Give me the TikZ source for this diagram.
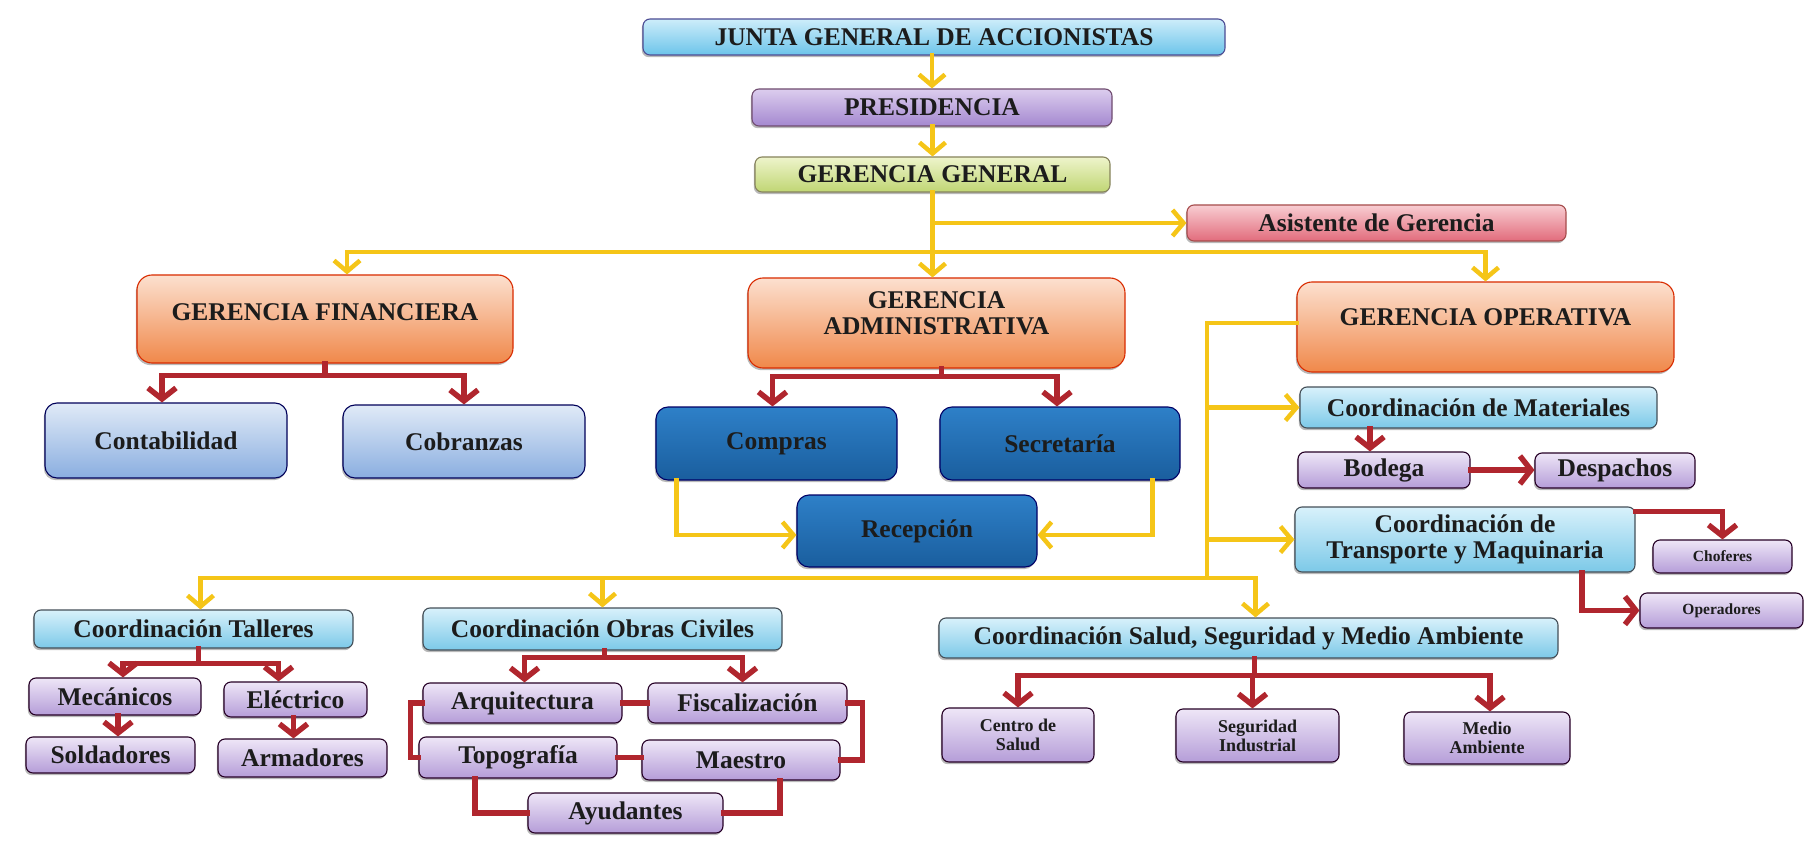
\documentclass[tikz,border=0pt]{standalone}
\usepackage{fontspec}
\setmainfont{Liberation Serif}
\usetikzlibrary{arrows.meta,shadows}
\definecolor{yel}{HTML}{F5C518}
\definecolor{redl}{HTML}{B0262E}
\definecolor{txt}{HTML}{1C1C1C}
\definecolor{juntaT}{HTML}{CDEDFA}\definecolor{juntaB}{HTML}{6CC4EA}
\definecolor{presT}{HTML}{DCCDEE}\definecolor{presB}{HTML}{A488D0}
\definecolor{ggT}{HTML}{EEF4CB}\definecolor{ggB}{HTML}{C0D674}
\definecolor{asisT}{HTML}{F8CDD2}\definecolor{asisB}{HTML}{E26C7C}
\definecolor{gerT}{HTML}{FCE0CF}\definecolor{gerB}{HTML}{F0884A}
\definecolor{contaT}{HTML}{E0EAF7}\definecolor{contaB}{HTML}{8AAEE0}
\definecolor{darkT}{HTML}{2E80C8}\definecolor{darkB}{HTML}{1A5E9E}
\definecolor{coordT}{HTML}{D8F1FB}\definecolor{coordB}{HTML}{7CC9E8}
\definecolor{purT}{HTML}{EEE6F7}\definecolor{purB}{HTML}{B59DD8}
\newcommand{\liftby}[2]{\raisebox{#1}[\height][\depth]{#2}}
\begin{document}
\begin{tikzpicture}[x=1pt,y=-1pt,
  box/.style={rounded corners=7pt, inner sep=0pt, align=center, line width=1.1pt,
    font=\bfseries\fontsize{25.5}{26.5}\selectfont, text=txt,
    drop shadow={shadow xshift=-1.2pt, shadow yshift=-2.2pt, opacity=0.55}},
  bjunta/.style={box, top color=juntaT, bottom color=juntaB, draw=black!60!blue!70},
  bpres/.style={box, top color=presT, bottom color=presB, draw=black!60!violet!70},
  bgg/.style={box, top color=ggT, bottom color=ggB, draw=black!55!olive!70},
  basis/.style={box, top color=asisT, bottom color=asisB, draw=black!50!red!70},
  bger/.style={box, rounded corners=15pt, top color=gerT, bottom color=gerB, draw=red!60!orange!85!black},
  bconta/.style={box, rounded corners=12pt, top color=contaT, bottom color=contaB, draw=blue!35!black},
  bdark/.style={box, rounded corners=12pt, top color=darkT, bottom color=darkB, draw=blue!40!black},
  bcoord/.style={box, top color=coordT, bottom color=coordB, draw=cyan!25!black},
  bpur/.style={box, top color=purT, bottom color=purB, draw=violet!30!black},
  small/.style={font=\bfseries\fontsize{15.5}{17}\selectfont},
  mid/.style={font=\bfseries\fontsize{18}{19}\selectfont},
  yline/.style={draw=yel, line width=4.5pt, line cap=rect},
  yarrow/.style={yline, -{Straight Barb[length=11pt,width=26pt]}},
  rline/.style={draw=redl, line width=5.5pt, line cap=rect},
  rarrow/.style={rline, -{Straight Barb[length=11pt,width=28pt]}}]
\useasboundingbox[fill=white] (0,0) rectangle (1809,842);

% nodes
\node[bjunta, minimum width=582pt, minimum height=36pt] (junta) at (934,37) {JUNTA GENERAL DE ACCIONISTAS};
\node[bpres, minimum width=360pt, minimum height=37pt] (pres) at (932,107.5) {PRESIDENCIA};
\node[bgg, minimum width=355pt, minimum height=35pt] (gg) at (932.5,174.5) {GERENCIA GENERAL};
\node[basis, minimum width=379pt, minimum height=36pt] (asis) at (1376.5,223) {Asistente de Gerencia};

\node[bger, minimum width=376pt, minimum height=88pt] (gf) at (325,319) {\liftby{7pt}{GERENCIA FINANCIERA}};
\node[bger, minimum width=377pt, minimum height=90pt] (ga) at (936.5,323) {\liftby{7pt}{\begin{tabular}{@{}c@{}}GERENCIA\\ADMINISTRATIVA\end{tabular}}};
\node[bger, minimum width=377pt, minimum height=90pt] (go) at (1485.5,327) {\liftby{10pt}{GERENCIA OPERATIVA}};

\node[bconta, minimum width=242pt, minimum height=75pt] (conta) at (166,440.5) {Contabilidad};
\node[bconta, minimum width=242pt, minimum height=73pt] (cobr) at (464,441.5) {Cobranzas};

\node[bdark, minimum width=241pt, minimum height=73pt] (compras) at (776.5,443.5) {Compras};
\node[bdark, minimum width=240pt, minimum height=73pt] (secre) at (1060,443.5) {Secretaría};
\node[bdark, minimum width=240pt, minimum height=72pt] (recep) at (917,531) {Recepción};

\node[bcoord, minimum width=357pt, minimum height=41pt] (cmat) at (1478.5,407.5) {Coordinación de Materiales};
\node[bpur, minimum width=172pt, minimum height=36pt] (bodega) at (1384,470) {Bodega};
\node[bpur, minimum width=160pt, minimum height=35pt] (desp) at (1615,470.5) {Despachos};
\node[bcoord, minimum width=340pt, minimum height=65pt] (ctrans) at (1465,539.5) {Coordinación de\\Transporte y Maquinaria};
\node[bpur, small, minimum width=139pt, minimum height=33pt] (chof) at (1722.5,556.5) {Choferes};
\node[bpur, small, minimum width=163pt, minimum height=35pt] (oper) at (1721.5,610.5) {Operadores};

\node[bcoord, minimum width=319pt, minimum height=38pt] (talleres) at (193.5,629) {Coordinación Talleres};
\node[bpur, minimum width=172pt, minimum height=37pt] (mec) at (115,696.5) {Mecánicos};
\node[bpur, minimum width=143pt, minimum height=35pt] (elec) at (295.5,699.5) {Eléctrico};
\node[bpur, minimum width=169pt, minimum height=36pt] (sold) at (110.5,755) {Soldadores};
\node[bpur, minimum width=169pt, minimum height=38pt] (arm) at (302.5,758) {Armadores};

\node[bcoord, minimum width=359pt, minimum height=42pt] (cobras) at (602.5,629) {Coordinación Obras Civiles};
\node[bpur, minimum width=199pt, minimum height=40pt] (arq) at (522.5,703) {Arquitectura};
\node[bpur, minimum width=199pt, minimum height=40pt] (fisc) at (747.5,703) {Fiscalización};
\node[bpur, minimum width=198pt, minimum height=41pt] (topo) at (518,757.5) {Topografía};
\node[bpur, minimum width=198pt, minimum height=40pt] (maes) at (741,760) {Maestro};
\node[bpur, minimum width=195pt, minimum height=40pt] (ayud) at (625.5,813) {Ayudantes};

\node[bcoord, minimum width=619pt, minimum height=40pt] (csalud) at (1248.5,638) {Coordinación Salud, Seguridad y Medio Ambiente};
\node[bpur, mid, minimum width=152pt, minimum height=54pt] (centro) at (1018,735) {Centro de\\Salud};
\node[bpur, mid, minimum width=163pt, minimum height=53pt] (seg) at (1257.5,735.5) {Seguridad\\Industrial};
\node[bpur, mid, minimum width=166pt, minimum height=52pt] (medio) at (1487,738) {Medio\\Ambiente};

% yellow connectors
\coordinate (topbus) at (0,252);
\coordinate (govx) at (1207,578);
\draw[yarrow] (pres.north |- junta.south) -- (pres.north);
\draw[yarrow] (gg.north |- pres.south) -- (gg.north);
\draw[yarrow] (gg.south) -- (gg.south |- ga.north);
\draw[yarrow] (gg.south |- asis.west) -- (asis.west);
\draw[yline] ([xshift=22pt]gf.north |- topbus) -- (go.north |- topbus);
\draw[yarrow] ([xshift=22pt]gf.north |- topbus) -- ([xshift=22pt]gf.north);
\draw[yarrow] (go.north |- topbus) -- (go.north);
\draw[yarrow] ([xshift=21pt]compras.south west) |- ([yshift=-4pt]recep.west);
\draw[yarrow] ([xshift=-28pt]secre.south east) |- ([yshift=-4pt]recep.east);
\draw[yline] ([yshift=4pt]go.west) -| (govx);
\draw[yarrow] (govx |- cmat.west) -- (cmat.west);
\draw[yarrow] (govx |- ctrans.west) -- (ctrans.west);
\draw[yline] ([xshift=7pt]talleres.north |- govx) -- ([xshift=7pt]csalud.north |- govx);
\draw[yarrow] ([xshift=7pt]talleres.north |- govx) -- ([xshift=7pt]talleres.north);
\draw[yarrow] (cobras.north |- govx) -- (cobras.north);
\draw[yarrow] ([xshift=7pt]csalud.north |- govx) -- ([xshift=7pt]csalud.north);

% red connectors
\draw[rarrow] (gf.south) -- ++(0,12) -| ([xshift=-4pt]conta.north);
\draw[rarrow] (gf.south) -- ++(0,12) -| (cobr.north);
\draw[rarrow] ([xshift=5pt]ga.south) -- ++(0,8) -| ([xshift=-4pt]compras.north);
\draw[rarrow] ([xshift=5pt]ga.south) -- ++(0,8) -| ([xshift=-3pt]secre.north);
\draw[rarrow] ([xshift=-14pt]bodega.north |- cmat.south) -- ([xshift=-14pt]bodega.north);
\draw[rarrow] (bodega.east) -- (bodega.east -| desp.west);
\draw[rarrow] ([yshift=-5pt]ctrans.north east) -| (chof.north);
\draw[rarrow] ([xshift=117pt]ctrans.south) |- (oper.west);
\draw[rarrow] ([xshift=5pt]talleres.south) -- ++(0,15) -| ([xshift=8pt]mec.north);
\draw[rarrow] ([xshift=5pt]talleres.south) -- ++(0,15) -| ([xshift=-17pt]elec.north);
\draw[rarrow] ([xshift=3pt]mec.south) -- ([xshift=3pt]mec.south |- sold.north);
\draw[rarrow] ([xshift=-2pt]elec.south) -- ([xshift=-2pt]elec.south |- arm.north);
\draw[rarrow] ([xshift=2pt]cobras.south) -- ++(0,7) -| ([xshift=2pt]arq.north);
\draw[rarrow] ([xshift=2pt]cobras.south) -- ++(0,7) -| ([xshift=-5pt]fisc.north);
\draw[rline] (arq.east) -- (arq.east -| fisc.west);
\draw[rline] (topo.east) -- (topo.east -| maes.west);
\draw[rline] (fisc.east) -- ++(15,0) |- (maes.east);
\draw[rline] (arq.west) -- ++(-12,0) |- (topo.west);
\draw[rline] ([xshift=-43pt]topo.south) |- (ayud.west);
\draw[rline] ([xshift=39pt]maes.south) |- (ayud.east);
\draw[rarrow] ([xshift=6pt]csalud.south) -- ++(0,17) -| (centro.north);
\draw[rarrow] ([xshift=6pt]csalud.south) -- ++(0,17) -| ([xshift=-5pt]seg.north);
\draw[rarrow] ([xshift=6pt]csalud.south) -- ++(0,17) -| ([xshift=3pt]medio.north);
\end{tikzpicture}
\end{document}
